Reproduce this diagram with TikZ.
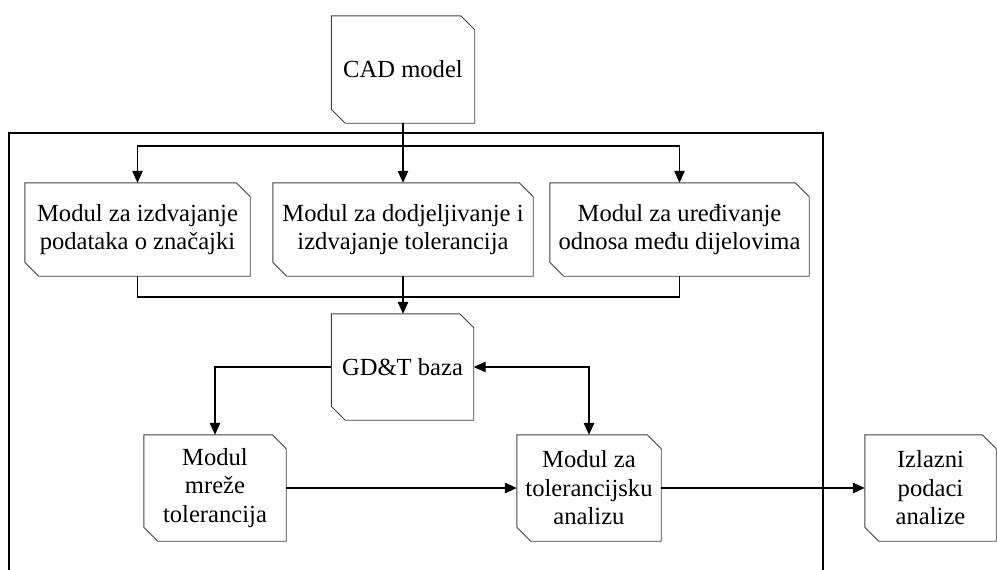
\documentclass[tikz,border=0pt]{standalone}
\usepackage{fontspec}
\setmainfont{Liberation Serif}
\newfontfamily\tnrfont{Liberation Serif}
\usetikzlibrary{arrows.meta}
\tikzset{
  x=1pt, y=-1pt,
  cardbox/.style={rectangle, inner sep=0pt, align=center,
    font=\tnrfont\fontsize{24.6pt}{28.5pt}\selectfont},
  cardline/.style={draw=black!75, line width=0.9pt},
  conn/.style={draw=black, line width=1.3pt,
    -{Triangle[length=12pt,width=10.5pt]}},
  plain/.style={draw=black, line width=1.3pt},
  frame/.style={draw=black, line width=1.1pt}
}
\newcommand\cardline[1]{%
  \draw[cardline] (#1.north west) -- ([xshift=-14pt]#1.north east)
    -- ([yshift=-14pt]#1.north east) -- (#1.south east)
    -- ([xshift=14pt]#1.south west) -- ([yshift=14pt]#1.south west) -- cycle;}
\begin{document}
\begin{tikzpicture}
\useasboundingbox (0,0) rectangle (997,570);
% frame
\draw[frame] (9,570) -- (9,133) -- (823,133) -- (823,570);
% nodes
\node[cardbox, minimum width=143pt, minimum height=107pt] (cad) at (403,69.5) {CAD model};
\node[cardbox, minimum width=225pt, minimum height=93pt] (b1) at (137.5,229.5) {Modul za izdvajanje\\podataka o značajki};
\node[cardbox, minimum width=260pt, minimum height=93pt] (b2) at (403,229.5) {Modul za dodjeljivanje i\\izdvajanje tolerancija};
\node[cardbox, minimum width=259pt, minimum height=93pt] (b3) at (679.5,229.5) {Modul za uređivanje\\odnosa među dijelovima};
\node[cardbox, minimum width=142pt, minimum height=106pt] (gdt) at (402.5,367) {GD\&T baza};
\node[cardbox, minimum width=142pt, minimum height=106pt] (m1) at (215,488) {Modul\\mreže\\tolerancija};
\node[cardbox, minimum width=144pt, minimum height=106pt] (m2) at (589,488) {Modul za\\tolerancijsku\\analizu};
\node[cardbox, minimum width=131pt, minimum height=106pt] (out) at (930.5,488) {Izlazni\\podaci\\analize};
\foreach \n in {cad,b1,b2,b3,gdt,m1,m2,out} {\cardline{\n}}
% connectors
\coordinate (bus) at (403,146);
\coordinate (join) at (403,297);
\draw[conn] (cad.south) -- (b2.north);
\draw[conn] (bus) -| (b1.north);
\draw[conn] (bus) -| (b3.north);
\draw[plain] (b1.south) |- (join);
\draw[plain] (b3.south) |- (join);
\draw[conn] (b2.south) -- (b2.south |- gdt.north);
\draw[conn] (gdt.west) -| (m1.north);
\draw[conn, {Triangle[length=12pt,width=10.5pt]}-{Triangle[length=12pt,width=10.5pt]}] (gdt.east) -| (m2.north);
\draw[conn] (m1.east) -- (m2.west);
\draw[conn] (m2.east) -- (out.west);
\end{tikzpicture}
\end{document}
